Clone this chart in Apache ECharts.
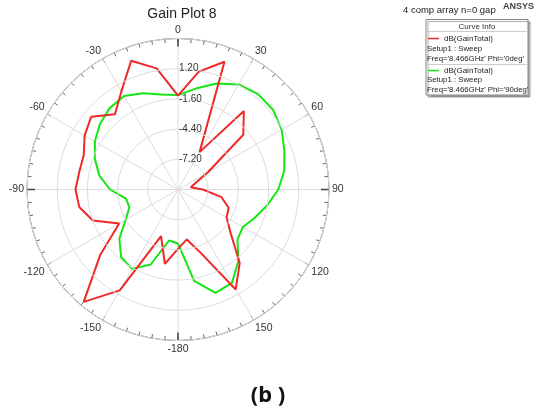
<!DOCTYPE html>
<html>
<head>
<meta charset="utf-8">
<script src="https://cdn.jsdelivr.net/npm/echarts@6/dist/echarts.min.js"></script>
<style>
  html, body { margin: 0; padding: 0; background: #fff; }
  #chart { width: 544px; height: 412px; }
</style>
</head>
<body>
<div id="chart"></div>
<script>
// Far-field gain cuts (dB) sampled every 10 degrees of theta
const thetaDeg = [-180, -170, -160, -150, -140, -130, -120, -110, -100, -90,
                  -80, -70, -60, -50, -40, -30, -20, -10, 0,
                  10, 20, 30, 40, 50, 60, 70, 80, 90,
                  100, 110, 120, 130, 140, 150, 160, 170];

// dB(GainTotal), Phi = 0deg
const gainPhi0 = [-4.5, -3.0, -5.4, 0.8, 3.6, -0.6, -3.7, -1.6, -0.7, -0.5,
                  -0.7, -0.7, 0.0, 0.5, -0.9, 0.5, 2.7, 1.4, -1.3,
                  1.1, 2.6, -6.0, -0.5, -2.1, -6.8, -8.3, -8.8, -7.7,
                  -5.9, -5.0, -4.8, -3.6, -1.1, 0.7, -3.7, -5.3];

// dB(GainTotal), Phi = 90deg
const gainPhi90 = [-5.0, -5.2, -2.6, -1.5, -1.8, -2.9, -4.4, -5.2, -5.1, -3.7,
                   -2.6, -1.8, -1.1, -0.55, -0.15, 0.0, -0.5, -1.05, -1.25,
                   -0.5, 0.45, 1.25, 1.55, 1.5, 1.1, 0.5, 0.0, -0.7,
                   -1.6, -2.4, -3.05, -2.8, -1.3, 0.0, 0.2, -1.4];

// Radial scale (dB)
const radialMin = -10;
const radialMax = 4;
const radialStep = 2.8;

const seriesNames = ["dB(GainTotal) Phi='0deg'", "dB(GainTotal) Phi='90deg'"];
const RED = '#f02828';
const GREEN = '#14e614';
const FONT = 'Liberation Sans, Arial, sans-serif';

// angle axis runs 0..360 clockwise from the top; negative theta wraps around
function toPolar(values) {
  const pts = thetaDeg.map((t, i) => [values[i], t < 0 ? t + 360 : t]);
  pts.push(pts[0].slice()); // close the loop
  return pts;
}

function angleLabel(v) {
  if (v === 360) return '';
  if (v === 180) return '-180';
  return String(v > 180 ? v - 360 : v);
}

const chart = echarts.init(document.getElementById('chart'), null, { renderer: 'canvas' });

const polarCenter = [178, 189.5];
const polarRadius = 151;

const legendText = { fontSize: 8, color: '#222', fontFamily: FONT, padding: [0, 0, 0, 0] };

chart.setOption({
  animation: false,
  backgroundColor: '#fff',
  textStyle: { fontFamily: FONT },
  title: {
    text: 'Gain Plot 8',
    left: 177, top: 2, textAlign: 'center',
    textStyle: { fontSize: 14, fontWeight: 'normal', color: '#222', fontFamily: FONT }
  },
  polar: [
    { center: polarCenter, radius: polarRadius },
    { center: polarCenter, radius: polarRadius }
  ],
  angleAxis: [
    {
      polarIndex: 0,
      type: 'value', min: 0, max: 360, interval: 30,
      startAngle: 90, clockwise: true,
      axisLine: { show: true, lineStyle: { color: '#555', width: 1 } },
      axisTick: { show: true, inside: true, length: 5, lineStyle: { color: '#555', width: 1 } },
      minorTick: { show: true, splitNumber: 6, length: 4, lineStyle: { color: '#666', width: 1 } },
      axisLabel: { show: true, margin: 3, fontSize: 10.5, color: '#333', fontFamily: FONT, formatter: angleLabel },
      splitLine: { show: true, lineStyle: { color: '#dcdcdc', width: 1 } }
    },
    {
      polarIndex: 1,
      type: 'value', min: 0, max: 360, interval: 90,
      startAngle: 90, clockwise: true,
      axisLine: { show: false },
      axisTick: { show: true, inside: true, length: 8, lineStyle: { color: '#444', width: 1.5 } },
      axisLabel: { show: false },
      splitLine: { show: false }
    }
  ],
  radiusAxis: [
    {
      polarIndex: 0,
      type: 'value', min: radialMin, max: radialMax, interval: radialStep,
      axisLine: { show: false },
      axisTick: { show: false },
      axisLabel: {
        show: true, showMinLabel: false, showMaxLabel: false,
        fontSize: 10, color: '#333', fontFamily: FONT,
        align: 'left', verticalAlign: 'middle', margin: -1,
        padding: [0, 0, 5, 0],
        formatter: v => v.toFixed(2)
      },
      splitLine: { show: true, lineStyle: { color: '#dcdcdc', width: 1 } },
      z: 5
    },
    {
      polarIndex: 1,
      type: 'value', min: radialMin, max: radialMax,
      axisLine: { show: false }, axisTick: { show: false },
      axisLabel: { show: false }, splitLine: { show: false }
    }
  ],
  legend: [
    {
      data: [{ name: seriesNames[0], itemStyle: { color: RED } }],
      left: 428, top: 34.5, padding: 0,
      icon: 'rect', itemWidth: 11, itemHeight: 1.5,
      formatter: () => 'dB(GainTotal)',
      textStyle: legendText,
      selectedMode: false
    },
    {
      data: [{ name: seriesNames[1], itemStyle: { color: GREEN } }],
      left: 428, top: 66.5, padding: 0,
      icon: 'rect', itemWidth: 11, itemHeight: 1.5,
      formatter: () => 'dB(GainTotal)',
      textStyle: legendText,
      selectedMode: false
    }
  ],
  graphic: [
    { type: 'text', left: 403, top: 5,
      style: { text: '4 comp array n=0 gap', font: '9.5px ' + FONT, fill: '#222' } },
    { type: 'text', left: 503, top: 2,
      style: { text: 'ANSYS', font: 'bold 9px ' + FONT, fill: '#444' } },
    { type: 'rect', shape: { x: 426, y: 19.5, width: 102, height: 75.5 },
      style: { fill: '#fff', stroke: '#888', lineWidth: 1,
               shadowColor: 'rgba(0,0,0,0.35)', shadowOffsetX: 2, shadowOffsetY: 2, shadowBlur: 1 },
      z: -1 },
    { type: 'line', shape: { x1: 427, y1: 31.5, x2: 527, y2: 31.5 }, style: { stroke: '#ccc', lineWidth: 1 } },
    { type: 'line', shape: { x1: 427, y1: 64.5, x2: 527, y2: 64.5 }, style: { stroke: '#ccc', lineWidth: 1 } },
    { type: 'text', x: 477, y: 26.5,
      style: { text: 'Curve Info', font: '8px ' + FONT, fill: '#333', align: 'center', verticalAlign: 'middle' } },
    { type: 'text', x: 427, y: 49,
      style: { text: 'Setup1 : Sweep', font: '7.8px ' + FONT, fill: '#222', verticalAlign: 'middle' } },
    { type: 'text', x: 427, y: 58.5,
      style: { text: "Freq='8.466GHz' Phi='0deg'", font: '7.8px ' + FONT, fill: '#222', verticalAlign: 'middle' } },
    { type: 'text', x: 427, y: 80,
      style: { text: 'Setup1 : Sweep', font: '7.8px ' + FONT, fill: '#222', verticalAlign: 'middle' } },
    { type: 'text', x: 427, y: 89.5,
      style: { text: "Freq='8.466GHz' Phi='90deg'", font: '7.8px ' + FONT, fill: '#222', verticalAlign: 'middle' } },
    { type: 'text', x: 268, y: 396,
      style: { text: '(b )', font: 'bold 22px Noto Sans, ' + FONT, fill: '#111', align: 'center', verticalAlign: 'middle' } }
  ],
  series: [
    {
      name: seriesNames[0], type: 'line', coordinateSystem: 'polar', polarIndex: 0,
      data: toPolar(gainPhi0),
      showSymbol: false, symbol: 'none',
      lineStyle: { color: RED, width: 2 }, itemStyle: { color: RED },
      z: 3
    },
    {
      name: seriesNames[1], type: 'line', coordinateSystem: 'polar', polarIndex: 0,
      data: toPolar(gainPhi90),
      showSymbol: false, symbol: 'none',
      lineStyle: { color: GREEN, width: 2 }, itemStyle: { color: GREEN },
      z: 2
    }
  ]
});
</script>
</body>
</html>
